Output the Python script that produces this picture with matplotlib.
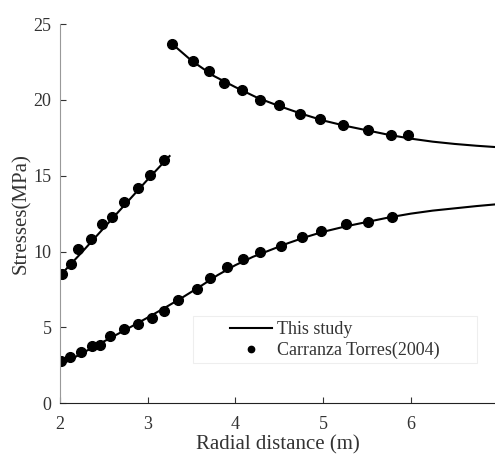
import numpy as np
import matplotlib
matplotlib.use("Agg")
import matplotlib.pyplot as plt
from matplotlib.patches import Rectangle

plt.rcParams['font.family'] = ['Liberation Serif', 'DejaVu Serif']

# "This study" curves
low_x = [2.0, 2.0, 2.2, 2.4, 2.6, 2.8, 3.0, 3.2, 3.4, 3.6, 3.8, 4.0, 4.2, 4.4, 4.6, 4.8,
         5.0, 5.25, 5.5, 5.75, 6.0, 6.25, 6.5, 6.75, 7.0]
low_y = [0.0, 2.5, 3.12, 3.75, 4.37, 5.0, 5.64, 6.3, 6.98, 7.7, 8.45, 9.1, 9.65, 10.1, 10.55,
         10.95, 11.3, 11.65, 11.95, 12.25, 12.5, 12.7, 12.85, 13.0, 13.13]
left_x = [2.0, 2.25, 2.5, 2.75, 3.0, 3.25]
left_y = [8.4, 9.95, 11.55, 13.15, 14.75, 16.3]
up_x = [3.28, 3.5, 3.75, 4.0, 4.25, 4.5, 4.75, 5.0, 5.25, 5.5, 5.75, 6.0, 6.25, 6.5, 6.75, 7.0]
up_y = [23.7, 22.6, 21.6, 20.85, 20.15, 19.6, 19.1, 18.65, 18.3, 18.0, 17.7, 17.45, 17.25,
        17.1, 16.98, 16.88]

# Carranza Torres (2004) points
ct_low_x = [2.01, 2.11, 2.24, 2.37, 2.46, 2.57, 2.73, 2.89, 3.05, 3.19, 3.35, 3.56, 3.71,
            3.90, 4.09, 4.28, 4.52, 4.76, 4.98, 5.26, 5.51, 5.79]
ct_low_y = [2.77, 3.05, 3.39, 3.78, 3.85, 4.42, 4.88, 5.25, 5.6, 6.09, 6.82, 7.56, 8.27,
            8.95, 9.5, 9.94, 10.36, 10.97, 11.37, 11.81, 11.92, 12.27]
ct_left_x = [2.02, 2.13, 2.21, 2.35, 2.48, 2.59, 2.73, 2.89, 3.03, 3.19]
ct_left_y = [8.55, 9.19, 10.14, 10.8, 11.79, 12.25, 13.28, 14.2, 15.04, 16.03]
ct_up_x = [3.28, 3.52, 3.70, 3.87, 4.08, 4.28, 4.50, 4.74, 4.97, 5.23, 5.51, 5.78, 5.97]
ct_up_y = [23.68, 22.6, 21.94, 21.13, 20.65, 20.03, 19.66, 19.08, 18.73, 18.34, 17.99,
           17.7, 17.7]

fig = plt.figure(figsize=(4.95, 4.57), dpi=100)
ax = fig.add_axes([0.121, 0.118, 0.879, 0.829])

lw = 1.5
ax.plot(low_x, low_y, color='black', lw=lw, label='This study')
ax.plot(left_x, left_y, color='black', lw=lw)
ax.plot(up_x, up_y, color='black', lw=lw)
ax.plot(ct_low_x, ct_low_y, 'o', color='black', ms=7, label='Carranza Torres(2004)')
ax.plot(ct_left_x, ct_left_y, 'o', color='black', ms=7)
ax.plot(ct_up_x, ct_up_y, 'o', color='black', ms=7)

ax.set_xlim(2, 6.96)
ax.set_ylim(0, 25)
ax.set_xticks([2, 3, 4, 5, 6])
ax.set_yticks([0, 5, 10, 15, 20, 25])
ax.spines['top'].set_visible(False)
ax.spines['right'].set_visible(False)
ax.spines['left'].set_color('#999999')
ax.spines['bottom'].set_color('#222222')
ax.tick_params(direction='in', length=4, labelsize=13, colors='#333333')
ax.tick_params(axis='x', pad=9)
ax.tick_params(axis='y', pad=6)
ax.set_xlabel('Radial distance (m)', fontsize=15, color='#333333', labelpad=2)
ax.set_ylabel('Stresses(MPa)', fontsize=15, color='#333333', labelpad=2)

# legend frame (faint) and frameless legend
frame = Rectangle((0.390, 0.2057), 0.574, 0.1028, transform=fig.transFigure,
                  facecolor='white', edgecolor='#eeeeee', lw=0.8, zorder=4, clip_on=False)
ax.add_patch(frame)
leg = ax.legend(loc='upper left', bbox_to_anchor=(0.4646, 0.2976),
                bbox_transform=fig.transFigure, fontsize=13, frameon=False,
                borderpad=0, borderaxespad=0, handlelength=2.3, markerscale=0.65,
                labelspacing=0.22, handletextpad=0.33)
leg.set_zorder(6)
for t in leg.get_texts():
    t.set_color('#333333')

fig.savefig('out.png', dpi=100)
